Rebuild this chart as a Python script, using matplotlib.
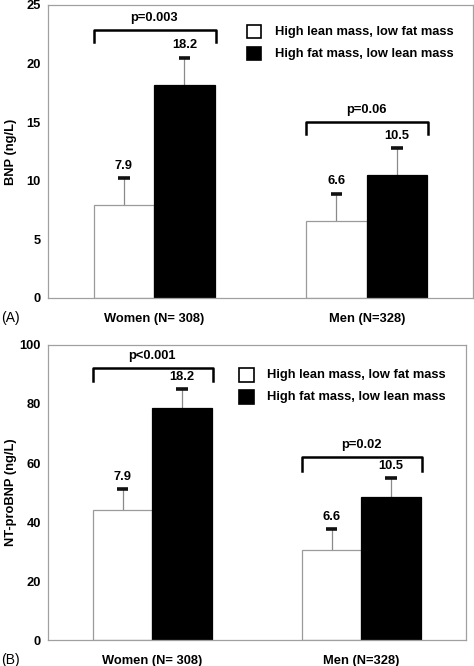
import matplotlib
matplotlib.use("Agg")
import matplotlib.pyplot as plt
from matplotlib.patches import Rectangle

plt.rcParams['font.family'] = ['Liberation Sans', 'DejaVu Sans']

groups = ["Women (N= 308)", "Men (N=328)"]
series = ["High lean mass, low fat mass", "High fat mass, low lean mass"]
labels = [["7.9", "18.2"], ["6.6", "10.5"]]

bnp_vals = [[7.9, 18.2], [6.6, 10.5]]
bnp_err = [[2.35, 2.3], [2.3, 2.3]]
bnp_p = ["p=0.003", "p=0.06"]
bnp_bracket = [[21.8, 22.9], [14.0, 15.0]]

nt_vals = [[44.0, 78.5], [30.5, 48.4]]
nt_err = [[7.1, 6.5], [7.0, 6.6]]
nt_p = ["p<0.001", "p=0.02"]
nt_bracket = [[87.9, 92.1], [57.4, 61.9]]

FS = 9.3

fig = plt.figure(figsize=(4.74, 6.66), dpi=100)

def panel(rect, vals, errs, pvals, brackets, ylim, yticks, ylabel, tag, leg_xy, ylab_x):
    ax = fig.add_axes(rect)
    w = 0.285
    colors = ["white", "black"]
    for gi in range(2):
        for si in range(2):
            x = gi - w + si * w  # left edge
            v = vals[gi][si]
            ax.bar(x, v, width=w, align='edge', color=colors[si],
                   edgecolor='#9a9a9a' if si == 0 else 'black', linewidth=0.9, zorder=2)
            xc = x + w / 2
            top = v + errs[gi][si]
            ax.plot([xc, xc], [v, top], color='#8a8a8a', lw=0.9, zorder=1)
            ax.plot([xc - 0.028, xc + 0.028], [top, top], color='#111111', lw=2.6,
                    solid_capstyle='butt', zorder=3)
            ax.annotate(labels[gi][si], (xc, top), xytext=(0, 4.5), textcoords='offset points',
                        ha='center', va='bottom', fontsize=FS, fontweight='bold')
        lo, hi = brackets[gi]
        xl, xr = gi - w, gi + w + 0.005
        ax.plot([xl, xl, xr, xr], [lo, hi, hi, lo], color='black', lw=1.8, zorder=3)
        ax.text(gi, hi + (ylim[1] - ylim[0]) * 0.02, pvals[gi], ha='center', va='bottom',
                fontsize=FS, fontweight='bold')
    ax.set_xlim(-0.5, 1.5)
    ax.set_ylim(*ylim)
    ax.set_yticks(yticks)
    ax.set_yticklabels([str(t) for t in yticks], fontsize=FS, fontweight='bold')
    ax.set_xticks([0, 1])
    ax.set_xticklabels(groups, fontsize=FS, fontweight='bold')
    ax.tick_params(axis='y', length=0, pad=5)
    ax.tick_params(axis='x', length=0, pad=11)
    for s in ax.spines.values():
        s.set_color('#a0a0a0')
        s.set_linewidth(0.9)
    ax.set_ylabel(ylabel, fontsize=FS, fontweight='bold')
    ax.yaxis.set_label_coords(ylab_x, 0.5)
    # legend
    lx, ly = leg_xy
    for i, c in enumerate(colors):
        yy = ly - i * 0.075
        ax.add_patch(Rectangle((lx, yy - 0.022), 0.034, 0.045, transform=ax.transAxes,
                               facecolor=c, edgecolor='black', lw=1.2, clip_on=False))
        ax.text(lx + 0.066, yy, series[i], transform=ax.transAxes, ha='left', va='center',
                fontsize=FS, fontweight='bold')
    fig.text(0.002, rect[1] - 0.03, tag, fontsize=10, ha='left', va='center')
    return ax

panel([0.101, 0.5526, 0.897, 0.4399], bnp_vals, bnp_err, bnp_p, bnp_bracket,
      (0, 25), [0, 5, 10, 15, 20, 25], "BNP (ng/L)", "(A)", (0.468, 0.909), -0.073)
panel([0.101, 0.039, 0.882, 0.443], nt_vals, nt_err, nt_p, nt_bracket,
      (0, 100), [0, 20, 40, 60, 80, 100], "NT-proBNP (ng/L)", "(B)", (0.458, 0.898), -0.075)

fig.savefig("out.png", dpi=100)
